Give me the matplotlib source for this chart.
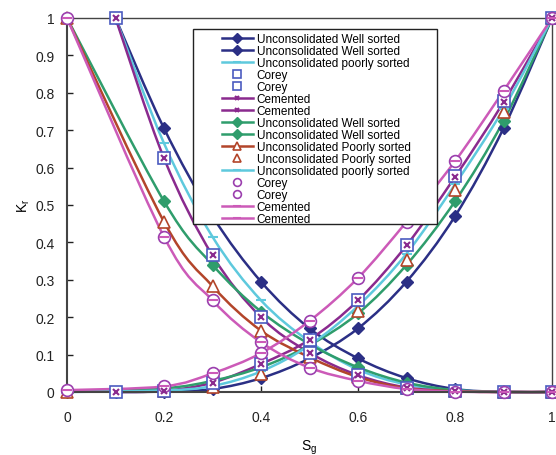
import numpy as np
import matplotlib
matplotlib.use("Agg")
import matplotlib.pyplot as plt
from matplotlib.path import Path
from matplotlib.patches import PathPatch, Rectangle
from matplotlib.lines import Line2D

plt.rcParams['font.family'] = ['Liberation Sans', 'DejaVu Sans']
plt.rcParams['mathtext.default'] = 'regular'

# saturation grids
sg_a = [0.1, 0.2, 0.3, 0.4, 0.5, 0.6, 0.7, 0.8, 0.9, 1.0]
sg_b = [0.0, 0.2, 0.3, 0.4, 0.5, 0.6, 0.7, 0.8, 0.9, 1.0]

# set A (residual 0.1)
uws_a_dec = [1.0, 0.705, 0.47, 0.295, 0.17, 0.09, 0.037, 0.008, 0.0, 0.0]
uws_a_inc = [0.0, 0.001, 0.008, 0.037, 0.09, 0.17, 0.295, 0.47, 0.705, 1.0]
ups_a_dec = [1.0, 0.665, 0.415, 0.245, 0.135, 0.06, 0.02, 0.005, 0.0, 0.0]
corey_a_dec = [1.0, 0.625, 0.365, 0.2, 0.105, 0.045, 0.012, 0.003, 0.0, 0.0]
corey_a_inc = [0.0, 0.003, 0.025, 0.075, 0.14, 0.247, 0.394, 0.578, 0.778, 1.0]
cem_a_dec = [1.0, 0.625, 0.365, 0.2, 0.105, 0.045, 0.012, 0.003, 0.0, 0.0]
cem_a_inc = [0.0, 0.003, 0.025, 0.075, 0.14, 0.245, 0.392, 0.575, 0.775, 1.0]

# set B
uws_b_dec = [1.0, 0.51, 0.34, 0.215, 0.128, 0.066, 0.025, 0.005, 0.0, 0.0]
uws_b_inc = [0.0, 0.01, 0.03, 0.066, 0.125, 0.21, 0.34, 0.51, 0.725, 1.0]
ups_b_dec = [1.0, 0.455, 0.283, 0.164, 0.093, 0.04, 0.01, 0.002, 0.0, 0.0]
ups_b_inc = [0.0, 0.003, 0.014, 0.047, 0.115, 0.217, 0.352, 0.54, 0.75, 1.0]
ups_b_inc2 = [0.0, 0.004, 0.016, 0.055, 0.125, 0.23, 0.37, 0.555, 0.757, 1.0]
corey_b_dec = [1.0, 0.415, 0.245, 0.133, 0.065, 0.03, 0.008, 0.001, 0.0, 0.0]
corey_b_inc = [0.005, 0.015, 0.05, 0.104, 0.19, 0.305, 0.455, 0.617, 0.805, 1.0]
cem_b_dec = [1.0, 0.415, 0.245, 0.133, 0.065, 0.03, 0.008, 0.001, 0.0, 0.0]
cem_b_inc = [0.005, 0.015, 0.05, 0.104, 0.19, 0.305, 0.455, 0.617, 0.805, 1.0]

NAVY = '#2b2f85'
CYAN = '#5ec9dd'
SQ = '#4b5bc0'
PURP = '#8a2a8e'
GREEN = '#2f9d6c'
BROWN = '#b3452a'
CIRC = '#9b3fae'
PINK = '#cc5ab8'


def smooth(x, y):
    # cubic bezier through the points (catmull-rom style, like spreadsheet smoothing)
    p = np.column_stack([x, y]).astype(float)
    n = len(p)
    verts = [p[0]]
    codes = [Path.MOVETO]
    for i in range(n - 1):
        p0 = p[i - 1] if i > 0 else p[i]
        p3 = p[i + 2] if i + 2 < n else p[i + 1]
        c1 = p[i] + (p[i + 1] - p0) / 6.0
        c2 = p[i + 1] - (p3 - p[i]) / 6.0
        verts += [c1, c2, p[i + 1]]
        codes += [Path.CURVE4] * 3
    return Path(verts, codes)


fig = plt.figure(figsize=(5.56, 4.56), dpi=100)
ax = fig.add_axes([67 / 556, 1 - 393 / 456, 485 / 556, 374 / 456])

# (label, x, y, color, draw line, marker, marker size, face, edge width, marker zorder)
series = [
    ('Unconsolidated Well sorted', sg_a, uws_a_dec, NAVY, True, 'D', 6, NAVY, 1, 3),
    ('Unconsolidated Well sorted', sg_a, uws_a_inc, NAVY, True, 'D', 6, NAVY, 1, 3),
    ('Unconsolidated poorly sorted', sg_a, ups_a_dec, CYAN, True, '_', 7, CYAN, 1.5, 3),
    ('Corey', sg_a, corey_a_dec, SQ, False, 's', 8.5, 'white', 1.2, 3.2),
    ('Corey', sg_a, corey_a_inc, SQ, False, 's', 8.5, 'white', 1.2, 3.2),
    ('Cemented', sg_a, cem_a_dec, PURP, True, 'x', 4, PURP, 1.5, 3.5),
    ('Cemented', sg_a, cem_a_inc, PURP, True, 'x', 4, PURP, 1.5, 3.5),
    ('Unconsolidated Well sorted', sg_b, uws_b_dec, GREEN, True, 'D', 6, GREEN, 1, 3),
    ('Unconsolidated Well sorted', sg_b, uws_b_inc, GREEN, True, 'D', 6, GREEN, 1, 3),
    ('Unconsolidated Poorly sorted', sg_b, ups_b_dec, BROWN, True, '^', 9, 'white', 1.2, 3.1),
    ('Unconsolidated Poorly sorted', sg_b, ups_b_inc, BROWN, False, '^', 9, 'white', 1.2, 3.1),
    ('Unconsolidated poorly sorted', sg_b, ups_b_inc2, CYAN, True, '_', 7, CYAN, 1.5, 3),
    ('Corey', sg_b, corey_b_dec, CIRC, False, 'o', 8.5, 'white', 1.2, 3.2),
    ('Corey', sg_b, corey_b_inc, CIRC, False, 'o', 8.5, 'white', 1.2, 3.2),
    ('Cemented', sg_b, cem_b_dec, PINK, True, '_', 7, PINK, 1.5, 3.5),
    ('Cemented', sg_b, cem_b_inc, PINK, True, '_', 7, PINK, 1.5, 3.5),
]

handles = []
for label, x, y, c, line, m, ms, fc, mew, mz in series:
    if line:
        ax.add_patch(PathPatch(smooth(x, y), fill=False, edgecolor=c, lw=1.8,
                               capstyle='round', joinstyle='round', zorder=2, clip_on=False))
    ax.plot(x, y, ls='none', marker=m, ms=ms, mfc=fc, mec=c, mew=mew,
            zorder=mz, clip_on=False)
    handles.append(Line2D([], [], color=c, lw=1.8 if line else 0, ls='-' if line else 'none',
                          marker=m, ms=min(ms, 7) * 0.8, mfc=fc, mec=c, mew=mew, label=label))

ax.set_xlim(0, 1)
ax.set_ylim(0, 1)
ax.set_xticks([0, 0.2, 0.4, 0.6, 0.8, 1.0])
ax.set_yticks(np.arange(0, 1.01, 0.1))
ax.xaxis.set_major_formatter(plt.FuncFormatter(lambda v, p: f'{v:g}'))
ax.yaxis.set_major_formatter(plt.FuncFormatter(lambda v, p: f'{v:g}'))
ax.tick_params(axis='x', direction='in', length=4, width=1, pad=13, labelsize=10, colors='#222222')
ax.tick_params(axis='y', direction='in', length=4, width=1, pad=9, labelsize=10, colors='#222222')
for side in ['left', 'bottom']:
    ax.spines[side].set_linewidth(1.5)
    ax.spines[side].set_color('#444444')
for side in ['top', 'right']:
    ax.spines[side].set_linewidth(1.0)
    ax.spines[side].set_color('#444444')

ax.set_xlabel('S$_g$', fontsize=10, labelpad=10)
ax.set_ylabel('K$_r$', fontsize=10, labelpad=2)

# legend box with white background over the curves
ax.add_patch(Rectangle((0.26, 0.449), 0.503, 0.5216, transform=ax.transAxes,
                       facecolor='white', edgecolor='#222222', lw=1.0, zorder=5, clip_on=False))
leg = ax.legend(handles=handles, loc='upper left', bbox_to_anchor=(222 / 556, 1 - 34 / 456),
                bbox_transform=fig.transFigure, frameon=False, fontsize=8.5,
                borderpad=0, borderaxespad=0, handlelength=2.6, handletextpad=0.35,
                labelspacing=0.0, numpoints=1)
leg.set_zorder(6)

fig.savefig('out.png', dpi=100)
